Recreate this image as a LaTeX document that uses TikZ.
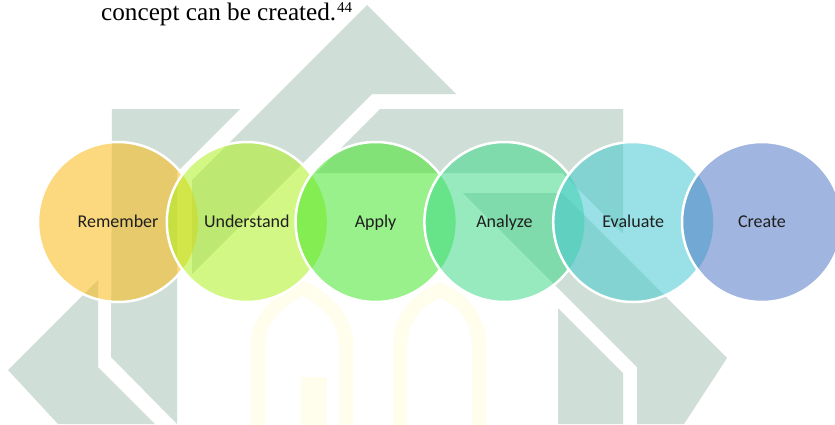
\documentclass[tikz,border=0pt]{standalone}
\usepackage{fontspec}
\setmainfont{Liberation Serif}
\newfontfamily\stagefont{Carlito}

% background emblem tints
\definecolor{wmgray}{RGB}{207,222,214}
\definecolor{archyellow}{RGB}{255,253,236}
% stage colours (drawn semi-transparent)
\definecolor{cRemember}{RGB}{250,186,21}
\definecolor{cUnderstand}{RGB}{176,242,31}
\definecolor{cApply}{RGB}{68,230,42}
\definecolor{cAnalyze}{RGB}{64,218,138}
\definecolor{cEvaluate}{RGB}{71,202,210}
\definecolor{cCreate}{RGB}{82,122,198}

\begin{document}
\begin{tikzpicture}[x=1pt,y=-1pt,
  emblem/.style={fill=wmgray,draw=none},
  archband/.style={draw=archyellow,line width=14pt},
  stage/.style={circle,minimum size=160pt,inner sep=0pt,draw=none,
    fill opacity=0.55,text opacity=1,text=black!88,
    text height=14pt,text depth=3pt,
    font=\stagefont\fontsize{18}{20}\selectfont},
  ring/.style={draw=white,line width=2.5pt}]

\useasboundingbox (0,0) rectangle (835,424);
\fill[white] (0,0) rectangle (835,424);

% ---- emblem in the background ----
% roof and its slanted band
\path[emblem] (367,5) -- (456,94) -- (372,94) -- (192,274) -- (192,180) -- cycle;
% left block
\path[emblem] (112,109) -- (240,109) -- (177,172) -- (177,424) -- (111,357) -- cycle;
% left chevron
\path[emblem] (8,370) -- (98,280) -- (98,367) -- (155,424) -- (58,424) -- cycle;
% right block
\path[emblem] (380,109) -- (623,109) -- (623,234) -- (562,173) -- (316,173) -- cycle;
% right band and chevron
\path[emblem] (463,193) -- (562,193) -- (727,358) -- (684,424) -- (637,424) -- (637,367) -- cycle;
% lower right block
\path[emblem] (558,308) -- (623,373) -- (623,424) -- (558,424) -- cycle;

% faint arches
\draw[archband] (258,440) -- (258,345) .. controls (258,315) and (285,297) .. (303,288)
  .. controls (321,297) and (346,315) .. (346,345) -- (346,440);
\fill[archyellow] (301,377) rectangle (327,430);
\draw[archband] (400,440) -- (400,345) .. controls (400,315) and (422,297) .. (440,290)
  .. controls (458,297) and (479,315) .. (479,345) -- (479,440);

% ---- caption line ----
\node[anchor=base west,inner sep=0pt,font=\fontsize{25.2}{28}\selectfont] (caption)
  at (101,20) {concept can be created.\hspace{1pt}\raisebox{8pt}{\fontsize{15}{15}\selectfont 44}};

% ---- stages ----
\node[stage,fill=cRemember]   (remember)   at (118,222)   {Remember};
\node[stage,fill=cUnderstand] (understand) at (246.8,222) {Understand};
\node[stage,fill=cApply]      (apply)      at (375.6,222) {Apply};
\node[stage,fill=cAnalyze]    (analyze)    at (504.4,222) {Analyze};
\node[stage,fill=cEvaluate]   (evaluate)   at (633.2,222) {Evaluate};
\node[stage,fill=cCreate]     (create)     at (762,222)   {Create};

% white rims: each rim is hidden where the next circle lies over it
\foreach \a/\b in {remember/understand,understand/apply,apply/analyze,analyze/evaluate,evaluate/create}{
  \begin{scope}[even odd rule]
    \clip (-10,-10) rectangle (860,440) (\b.center) circle (80);
    \draw[ring] (\a.center) circle (80);
  \end{scope}
}
\draw[ring] (create.center) circle (80);

\end{tikzpicture}
\end{document}
